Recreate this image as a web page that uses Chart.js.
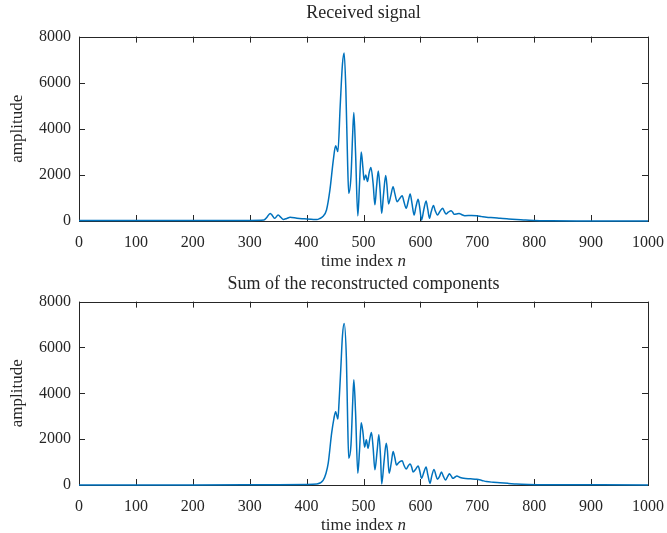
<!DOCTYPE html>
<html>
<head>
<meta charset="utf-8">
<script src="https://cdn.jsdelivr.net/npm/chart.js@4"></script>
<style>
  body { margin: 0; background: #fff; }
  #wrap { position: relative; width: 667px; height: 533px; }
  canvas { position: absolute; left: 0; }
</style>
</head>
<body>
<div id="wrap">
  <canvas id="topChart" width="667" height="270" style="top:0"></canvas>
  <canvas id="bottomChart" width="667" height="263" style="top:270px"></canvas>
</div>
<script>
// sample index and amplitude
var receivedIdx = [0, 100, 200, 300, 325, 330, 336, 340, 344, 350, 355, 359, 365, 371, 383, 392, 400, 412, 418, 424, 428,
    435, 441, 447, 451, 455, 459, 463, 466, 469, 472, 474, 478, 481, 483, 486, 490, 493, 496, 499, 501, 504, 507, 510,
    513, 517, 520, 523, 526, 529, 532, 535, 539, 541, 544, 548, 552, 555, 559, 563, 568, 571, 575, 579, 582, 585, 589,
    592, 596, 599, 602, 606, 610, 613, 616, 619, 623, 626, 630, 634, 639, 642, 645, 649, 654, 657, 659, 663, 668, 673,
    678, 690, 699, 708, 716, 730, 740, 755, 769, 785, 800, 830, 900, 1000];
var receivedAmp = [20, 20, 20, 25, 40, 150, 330, 230, 115, 260, 150, 70, 110, 160, 120, 100, 90, 70, 60, 120, 180,
    480, 1350, 2650, 3260, 3010, 4970, 6800, 7290, 5700, 2600, 1200, 1930, 3800, 4710, 3000, 220, 1600, 2990, 2300, 1780, 2000, 1710, 2100,
    2320, 1600, 700, 1500, 2170, 1400, 330, 1100, 1970, 1600, 740, 1100, 1490, 1200, 840, 950, 1100, 850, 550, 900, 1170, 800, 260,
    600, 940, 550, 40, 500, 870, 500, 120, 400, 670, 450, 260, 400, 550, 420, 300, 380, 450, 370, 290, 300, 330, 270,
    230, 240, 230, 190, 160, 140, 115, 90, 70, 40, 25, 8, 5, 5];

var sumIdx = [0, 200, 300, 350, 400, 418, 429, 434, 438, 444, 448, 451, 455, 457, 460, 463, 466, 470, 472, 474, 478,
    481, 483, 486, 490, 493, 496, 499, 502, 505, 508, 511, 514, 517, 520, 524, 527, 530, 532, 536, 540, 542, 545, 549,
    552, 555, 558, 561, 564, 568, 571, 575, 579, 582, 585, 587, 592, 596, 599, 602, 606, 610, 613, 617, 620, 624, 627,
    630, 634, 637, 640, 644, 648, 651, 654, 657, 661, 664, 670, 676, 688, 699, 708, 716, 728, 740, 755, 769, 790, 830, 1000];
var sumAmp = [5, 5, 10, 15, 20, 40, 200, 500, 950, 2260, 2900, 3200, 2880, 3600, 5030, 6500, 7040, 5460, 3000, 1170, 1750,
    3600, 4590, 3200, 510, 1500, 2720, 2300, 1650, 1970, 1600, 2000, 2290, 1600, 660, 1500, 2190, 1200, 40, 1000, 1820, 1500, 510, 1000,
    1460, 1200, 870, 950, 1020, 1060, 870, 700, 850, 920, 750, 570, 700, 830, 600, 290, 550, 790, 450, 70, 400, 680, 450,
    250, 400, 570, 400, 220, 380, 490, 400, 290, 350, 390, 330, 290, 270, 250, 200, 150, 120, 100, 70, 40, 20, 10, 5];

var xTicks = [0, 100, 200, 300, 400, 500, 600, 700, 800, 900, 1000];
var yTicks = [0, 2000, 4000, 6000, 8000];

var axisColor = '#262626';
var lineColor = '#0072BD';
var serif = "'Liberation Serif', 'Times New Roman', serif";

// box around the axes with inward ticks on all four sides
var boxPlugin = {
    id: 'boxTicks',
    beforeDatasetsDraw: function(chart) {
        var ctx = chart.ctx, a = chart.chartArea;
        var xs = chart.scales.x, ys = chart.scales.y;
        ctx.save();
        ctx.strokeStyle = axisColor;
        ctx.lineWidth = 1;
        ctx.strokeRect(Math.round(a.left) + 0.5, Math.round(a.top) + 0.5,
            Math.round(a.right - a.left), Math.round(a.bottom - a.top));
        ctx.beginPath();
        xTicks.forEach(function(v) {
            var px = Math.round(xs.getPixelForValue(v)) + 0.5;
            ctx.moveTo(px, a.bottom); ctx.lineTo(px, a.bottom - 6);
            ctx.moveTo(px, a.top); ctx.lineTo(px, a.top + 6);
        });
        yTicks.forEach(function(v) {
            var py = Math.round(ys.getPixelForValue(v)) + 0.5;
            ctx.moveTo(a.left, py); ctx.lineTo(a.left + 6, py);
            ctx.moveTo(a.right, py); ctx.lineTo(a.right - 6, py);
        });
        ctx.stroke();
        ctx.restore();
    },
    afterDraw: function(chart) {
        // x label with an italic n
        var ctx = chart.ctx, a = chart.chartArea;
        var part1 = 'time index ', part2 = 'n';
        ctx.save();
        ctx.fillStyle = axisColor;
        ctx.textBaseline = 'middle';
        ctx.font = '17px ' + serif;
        var w1 = ctx.measureText(part1).width;
        ctx.font = 'italic 17px ' + serif;
        var w2 = ctx.measureText(part2).width;
        var x0 = (a.left + a.right) / 2 - (w1 + w2) / 2;
        var y0 = a.bottom + 41;
        ctx.font = '17px ' + serif;
        ctx.fillText(part1, x0, y0);
        ctx.font = 'italic 17px ' + serif;
        ctx.fillText(part2, x0 + w1, y0);
        ctx.restore();
    }
};

function makeChart(id, titleText, idx, amp, titlePad, xHeight) {
    var points = idx.map(function(v, i) { return { x: v, y: amp[i] }; });
    return new Chart(document.getElementById(id).getContext('2d'), {
        type: 'line',
        data: {
            datasets: [{
                data: points,
                borderColor: lineColor,
                borderWidth: 1.5,
                pointRadius: 0,
                fill: false,
                cubicInterpolationMode: 'monotone',
                clip: 3
            }]
        },
        options: {
            responsive: false,
            animation: false,
            events: [],
            layout: { padding: { left: 0, right: 19, top: 0, bottom: 0 } },
            plugins: {
                legend: { display: false },
                tooltip: { enabled: false },
                title: {
                    display: true,
                    fullSize: false,
                    text: titleText,
                    color: axisColor,
                    font: { family: serif, size: 18, weight: 'normal', lineHeight: 1.2 },
                    padding: titlePad
                }
            },
            scales: {
                x: {
                    type: 'linear',
                    min: 0,
                    max: 1000,
                    grid: { display: false, drawTicks: false },
                    border: { display: false },
                    afterBuildTicks: function(s) { s.ticks = xTicks.map(function(v) { return { value: v }; }); },
                    afterFit: function(s) { s.height = xHeight; s.paddingRight = 0; s.paddingLeft = 0; },
                    ticks: {
                        autoSkip: false,
                        maxRotation: 0,
                        padding: 12,
                        color: axisColor,
                        font: { family: serif, size: 16 },
                        callback: function(v) { return String(v); }
                    }
                },
                y: {
                    min: 0,
                    max: 8000,
                    grid: { display: false, drawTicks: false },
                    border: { display: false },
                    afterBuildTicks: function(s) { s.ticks = yTicks.map(function(v) { return { value: v }; }); },
                    afterFit: function(s) { s.width = 79; },
                    ticks: {
                        padding: 8,
                        color: axisColor,
                        font: { family: serif, size: 16 },
                        callback: function(v) { return String(v); }
                    },
                    title: {
                        display: true,
                        text: 'amplitude',
                        color: axisColor,
                        font: { family: serif, size: 17, lineHeight: 1.2 },
                        padding: { top: 7, bottom: 0 }
                    }
                }
            }
        },
        plugins: [boxPlugin]
    });
}

var topChart = makeChart('topChart', 'Received signal', receivedIdx, receivedAmp, { top: 2, bottom: 13 }, 49);
var bottomChart = makeChart('bottomChart', 'Sum of the reconstructed components', sumIdx, sumAmp, { top: 3, bottom: 7 }, 48);
</script>
</body>
</html>
